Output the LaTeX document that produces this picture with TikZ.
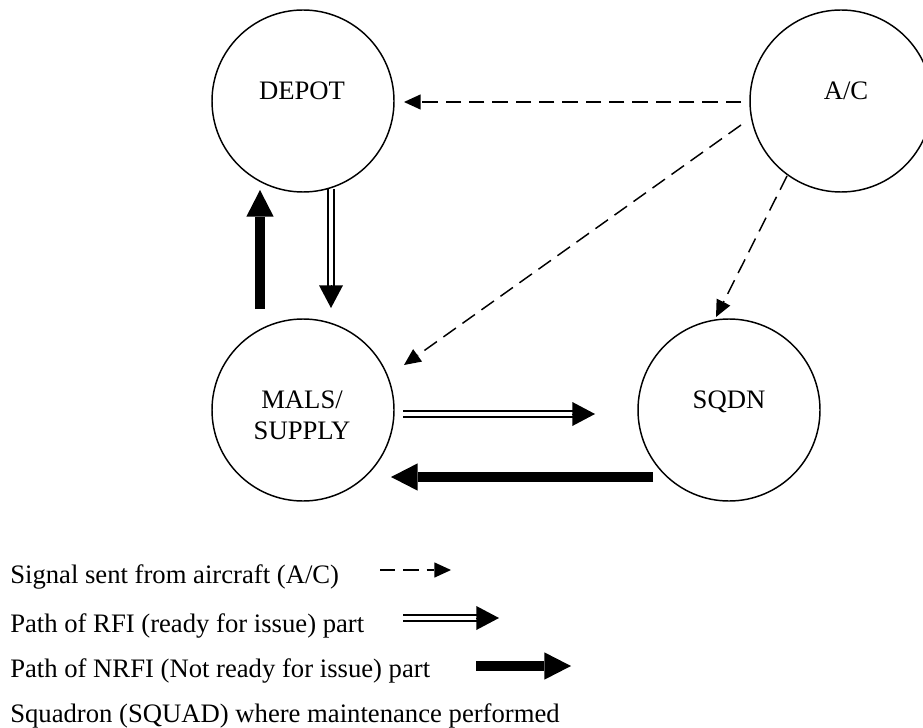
\documentclass[tikz,border=0pt]{standalone}
\usepackage{fontspec}
\setmainfont{Liberation Serif}
\usetikzlibrary{arrows.meta}
\begin{document}
\begin{tikzpicture}[x=0.75pt,y=-0.75pt,
  state/.style={circle,draw,line width=1.1pt,minimum size=136.5pt,inner sep=0pt},
  lbl/.style={inner sep=0pt,font=\fontsize{20}{24}\selectfont},
  signal/.style={line width=1.1pt,dash pattern=on 11.5pt off 6pt,-{Triangle[length=12.5pt,width=11.5pt,line width=0pt]}},
  rfiline/.style={double,double distance=3.3pt,line width=1.2pt},
  rfihead/.style={line width=0.1pt,-{Triangle[length=17pt,width=18pt,line width=0pt]}},
  nrfi/.style={line width=7.5pt,-{Triangle[length=20pt,width=20.5pt,line width=0pt]}}]
\useasboundingbox (0,0) rectangle (923,727);
\fill[white] (0,0) rectangle (923,727);

% circles
\node[state] (depot) at (303,101) {};
\node[state] (ac) at (841,101) {};
\node[state] (mals) at (303,410) {};
\node[state] (sqdn) at (729,410) {};

% circle labels
\node[lbl,anchor=base] (depotT) at (302,100) {DEPOT};
\node[lbl,anchor=base] (acT) at (846,100) {A/C};
\node[lbl,anchor=base] (sqdnT) at (729,408) {SQDN};
\node[lbl,anchor=base] (malsT) at (302,408) {MALS/};
\node[lbl,anchor=base] (supplyT) at (302,439) {SUPPLY};

% connector end points
\coordinate (s1a) at (741,102); \coordinate (s1b) at (404,102);
\coordinate (s2a) at (741,125); \coordinate (s2b) at (404,365);
\coordinate (s3a) at (787,176); \coordinate (s3b) at (716,317);

\coordinate (rd0) at (331,189); \coordinate (rd1) at (331,287); \coordinate (rd2) at (331,308);
\coordinate (rr0) at (403,414); \coordinate (rr1) at (574,414); \coordinate (rr2) at (595,414);

\coordinate (nu0) at (260,309); \coordinate (nu1) at (260,190);
\coordinate (nl0) at (653,477); \coordinate (nl1) at (391,477);

% signals from A/C
\draw[signal] (s1a) -- (s1b);
\draw[signal] (s2a) -- (s2b);
\draw[signal] (s3a) -- (s3b);

% RFI paths
\draw[rfiline] (rd0) -- (rd1);
\draw[rfihead] (rd1) -- (rd2);
\draw[rfiline] (rr0) -- (rr1);
\draw[rfihead] (rr1) -- (rr2);

% NRFI paths
\draw[nrfi] (nu0) -- (nu1);
\draw[nrfi] (nl0) -- (nl1);

% legend
\node[lbl,anchor=base west] (leg1) at (10,583) {Signal sent from aircraft (A/C)};
\node[lbl,anchor=base west] (leg2) at (10,632) {Path of RFI (ready for issue) part};
\node[lbl,anchor=base west] (leg3) at (10,677) {Path of NRFI (Not ready for issue) part};
\node[lbl,anchor=base west] (leg4) at (10,722) {Squadron (SQUAD) where maintenance performed};

\coordinate (l1a) at (380,570); \coordinate (l1b) at (451,570);
\coordinate (l2a) at (403,618); \coordinate (l2b) at (477,618); \coordinate (l2c) at (499,618);
\coordinate (l3a) at (476,666); \coordinate (l3b) at (571,666);

\draw[signal] (l1a) -- (l1b);
\draw[rfiline] (l2a) -- (l2b);
\draw[rfihead] (l2b) -- (l2c);
\draw[nrfi] (l3a) -- (l3b);
\end{tikzpicture}
\end{document}
